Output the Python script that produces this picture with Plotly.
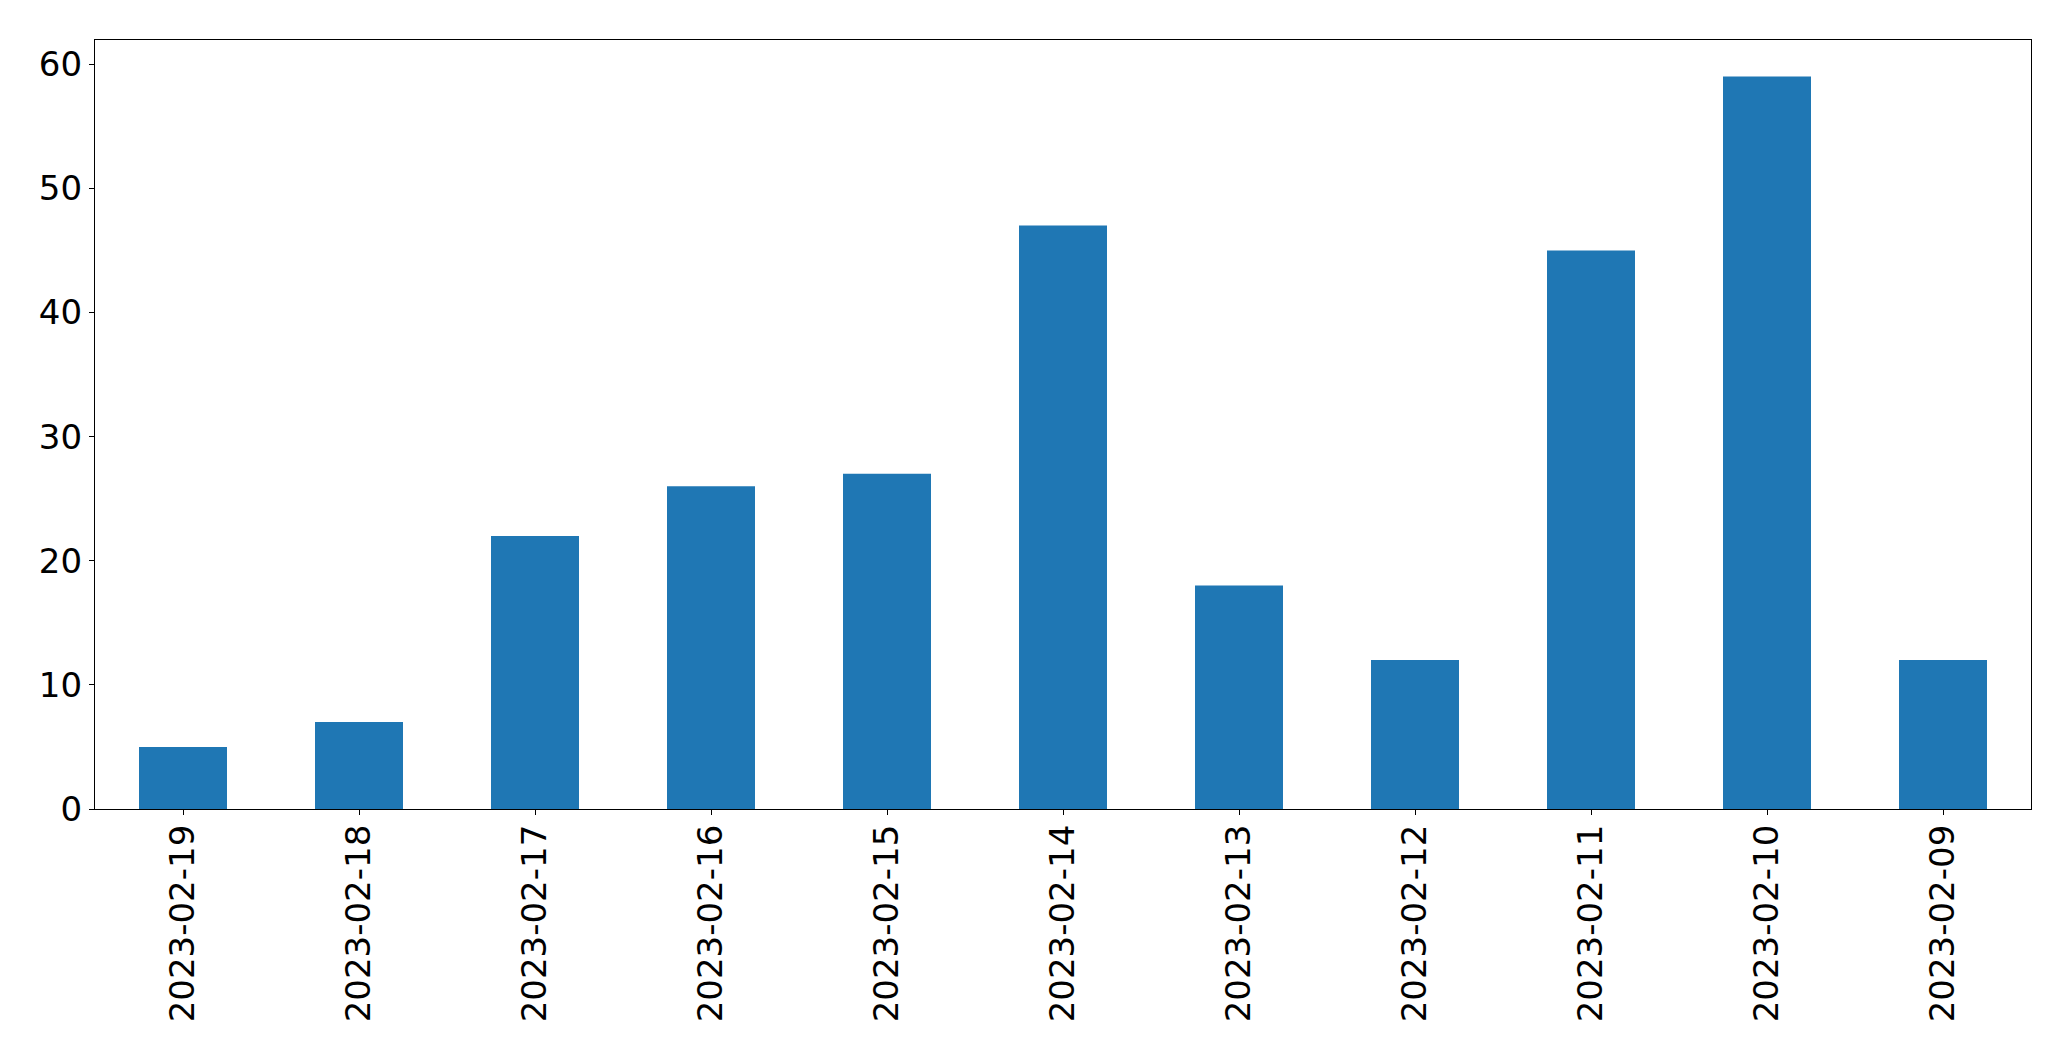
import plotly.graph_objects as go

dates = ["2023-02-19", "2023-02-18", "2023-02-17", "2023-02-16", "2023-02-15",
         "2023-02-14", "2023-02-13", "2023-02-12", "2023-02-11", "2023-02-10", "2023-02-09"]
counts = [5, 7, 22, 26, 27, 47, 18, 12, 45, 59, 12]
y_ticks = [0, 10, 20, 30, 40, 50, 60]

fig = go.Figure(go.Bar(x=dates, y=counts, marker=dict(color="#1f77b4", line=dict(width=0))))

font = dict(family="DejaVu Sans", size=34, color="black")
fig.update_layout(
    width=2055, height=1045,
    margin=dict(l=86.5, r=31.5, t=31.5, b=244, autoexpand=False),
    paper_bgcolor="white", plot_bgcolor="white",
    bargap=0.5, showlegend=False, font=font,
)
fig.update_xaxes(
    type="category", range=[-0.5, 10.5], tickangle=-90,
    showline=True, mirror=True, linecolor="black", linewidth=1.3,
    ticks="outside", ticklen=5, tickwidth=1.3, tickcolor="black",
    showgrid=False, zeroline=False, tickfont=font, ticklabelstandoff=-4,
)
fig.update_yaxes(
    range=[0, 61.95], tickvals=y_ticks, ticktext=[str(v) for v in y_ticks],
    showline=True, mirror=True, linecolor="black", linewidth=1.3,
    ticks="outside", ticklen=5, tickwidth=1.3, tickcolor="black",
    showgrid=False, zeroline=False, tickfont=font,
)
fig.write_html("out.html")
